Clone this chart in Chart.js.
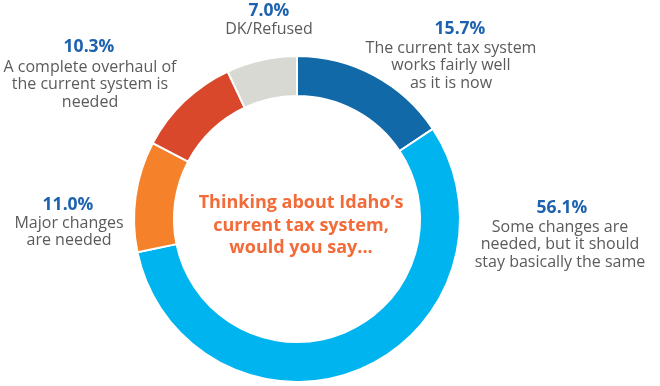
<!DOCTYPE html>
<html>
<head>
<meta charset="utf-8">
<script src="https://cdn.jsdelivr.net/npm/chart.js@4"></script>
<style>
  html, body { margin:0; padding:0; background:#fff; }
  #wrap { width:660px; height:386px; position:relative; }
</style>
</head>
<body>
<div id="wrap"><canvas id="chart" width="660" height="386"></canvas></div>
<script>
// --- Dane ---
const categories = [
  'The current tax system works fairly well as it is now',
  'Some changes are needed, but it should stay basically the same',
  'Major changes are needed',
  'A complete overhaul of the current system is needed',
  'DK/Refused'
];
const values = [15.7, 56.1, 11.0, 10.3, 7.0];
const labelLines = [
  ['The current tax system', 'works fairly well', 'as it is now'],
  ['Some changes are', 'needed, but it should', 'stay basically the same'],
  ['Major changes', 'are needed'],
  ['A complete overhaul of', 'the current system is', 'needed'],
  ['DK/Refused']
];
const centerTitle = ['Thinking about Idaho\u2019s', 'current tax system,', 'would you say...'];

// --- Wyglad ---
const colors = ['#1169a8', '#00b4ef', '#f5822a', '#d9482b', '#d9d9d4'];
// pozycje etykiet: [x procentu, y procentu, x tekstu, y pierwszej linii]
const labelPos = [
  [460, 29, 451, 48],
  [562, 208, 560, 227],
  [68, 205, 69, 223],
  [89, 47, 90, 67],
  [269, 11, 269, 29]
];

const labelsPlugin = {
  id: 'labels',
  afterDraw(chart) {
    const ctx = chart.ctx;
    ctx.save();
    ctx.textAlign = 'center';
    ctx.textBaseline = 'middle';
    values.forEach((v, i) => {
      const p = labelPos[i];
      ctx.fillStyle = '#1d62ae';
      ctx.font = 'bold 17.5px "Open Sans"';
      ctx.fillText(v.toFixed(1) + '%', p[0], p[1]);
      ctx.fillStyle = '#5b5b5b';
      ctx.font = '16px "Open Sans"';
      labelLines[i].forEach((t, j) => ctx.fillText(t, p[2], p[3] + j * 17.5));
    });
    // tekst w srodku
    const arc = chart.getDatasetMeta(0).data[0];
    ctx.fillStyle = '#f26b38';
    ctx.font = 'bold 18px "Open Sans"';
    centerTitle.forEach((t, j) => ctx.fillText(t, arc.x + 4, arc.y - 16 + j * 22.5));
    ctx.restore();
  }
};

new Chart(document.getElementById('chart'), {
  type: 'doughnut',
  data: {
    labels: categories,
    datasets: [{
      data: values,
      backgroundColor: colors,
      borderColor: '#ffffff',
      borderWidth: 2,
      hoverOffset: 0
    }]
  },
  options: {
    responsive: false,
    animation: false,
    cutout: '75.5%',
    layout: { padding: { top: 55, bottom: 3, left: 0, right: 66 } },
    plugins: { legend: { display: false }, tooltip: { enabled: false } }
  },
  plugins: [labelsPlugin]
});
</script>
</body>
</html>
